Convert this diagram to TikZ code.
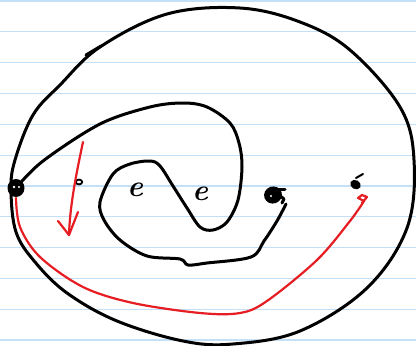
\documentclass[tikz,border=0pt]{standalone}
\usetikzlibrary{calc}
\definecolor{paperline}{RGB}{196,224,246}
\definecolor{pen}{RGB}{230,30,35}
\tikzset{
  ink/.style={line width=3pt,line cap=round,line join=round,black},
  redink/.style={line width=2.2pt,line cap=round,line join=round,pen},
  letter/.style={font=\fontsize{30}{30}\selectfont\bfseries\itshape,inner sep=0pt}
}
\begin{document}
\begin{tikzpicture}[x=1pt,y=-1pt]
\useasboundingbox (0,0) rectangle (416,346);
\fill[white] (0,0) rectangle (416,346);
% paper lines
\foreach \k in {0,...,11}{
  \draw[paperline,line width=1.2pt] (0,{1+30.82*\k}) -- (416,{1+30.82*\k});
}
% points
\coordinate (p) at (16,188);
\coordinate (o) at (79,182);
\coordinate (q) at (273,195);
\coordinate (r) at (357,182);
% outer closed curve
\draw[ink] plot[smooth cycle,tension=0.6] coordinates {
  (240,8) (167,14) (100,47) (60,85) (33,115) (15,160) (11,190) (16,232)
  (35,262) (67,293) (117,321) (183,341) (233,344) (300,331) (367,288)
  (407,228) (414,160) (400,107) (350,50) (300,22)};
\draw[ink] (86,55) -- (101,46);
% spiral
\draw[ink] plot[smooth,tension=0.55] coordinates {
  (p) (43,161) (100,124) (150,107) (183,103) (207,107) (230,123) (239,143)
  (242,167) (238,200) (227,222) (213,230) (200,227) (187,208) (173,186)
  (160,166) (150,161) (130,164) (113,174) (100,202) (104,220) (120,240)
  (147,256) (180,259) (188,265) (207,263) (251,257) (264,241) (277,221) (286,204)};
% dots
\fill (p) ellipse[x radius=8.5,y radius=9];
\fill[white] ($(p)+(-2,-1)$) circle[radius=1.3];
\fill[white] ($(p)+(3,-1)$) circle[radius=1.1];
\draw[line width=1.8pt] (o) ellipse[x radius=3.2,y radius=2.4];
\fill[rotate around={20:(q)}] (q) ellipse[x radius=9,y radius=8.5];
\fill[white] ($(q)+(-2,1)$) circle[radius=1.2];
\draw[ink] ($(q)+(5,-6)$) -- ($(q)+(12,-6)$);
\draw[ink] ($(q)+(6,0)$) -- ($(q)+(11,4)$) -- ($(q)+(9,8)$);
\fill[rotate around={-30:(r)}] ($(r)+(0,3)$) ellipse[x radius=5.5,y radius=4.5];
\draw[ink,line width=2pt] ($(r)+(-1,-4)$) -- ($(r)+(6,-8)$);
% letters
\node[letter] (e1) at (135,190) {e};
\node[letter] (e2) at (200,194) {e};
% red curve
\draw[redink] plot[smooth,tension=0.55] coordinates {
  ($(p)+(0,10)$) (20,227) (40,257) (83,287) (133,303) (200,313) (240,313)
  (267,301) (317,260) (350,221) (364,201)};
\draw[redink] (364,201) -- (358,198) -- (362,195) -- (367,197) -- (362,203);
% red arrow
\coordinate (a0) at (83,142);
\coordinate (a1) at (69,235);
\draw[redink] (a0) .. controls (76,175) and (70,205) .. (a1);
\draw[redink] (58,221) -- (a1) -- (78,212);
\end{tikzpicture}
\end{document}
